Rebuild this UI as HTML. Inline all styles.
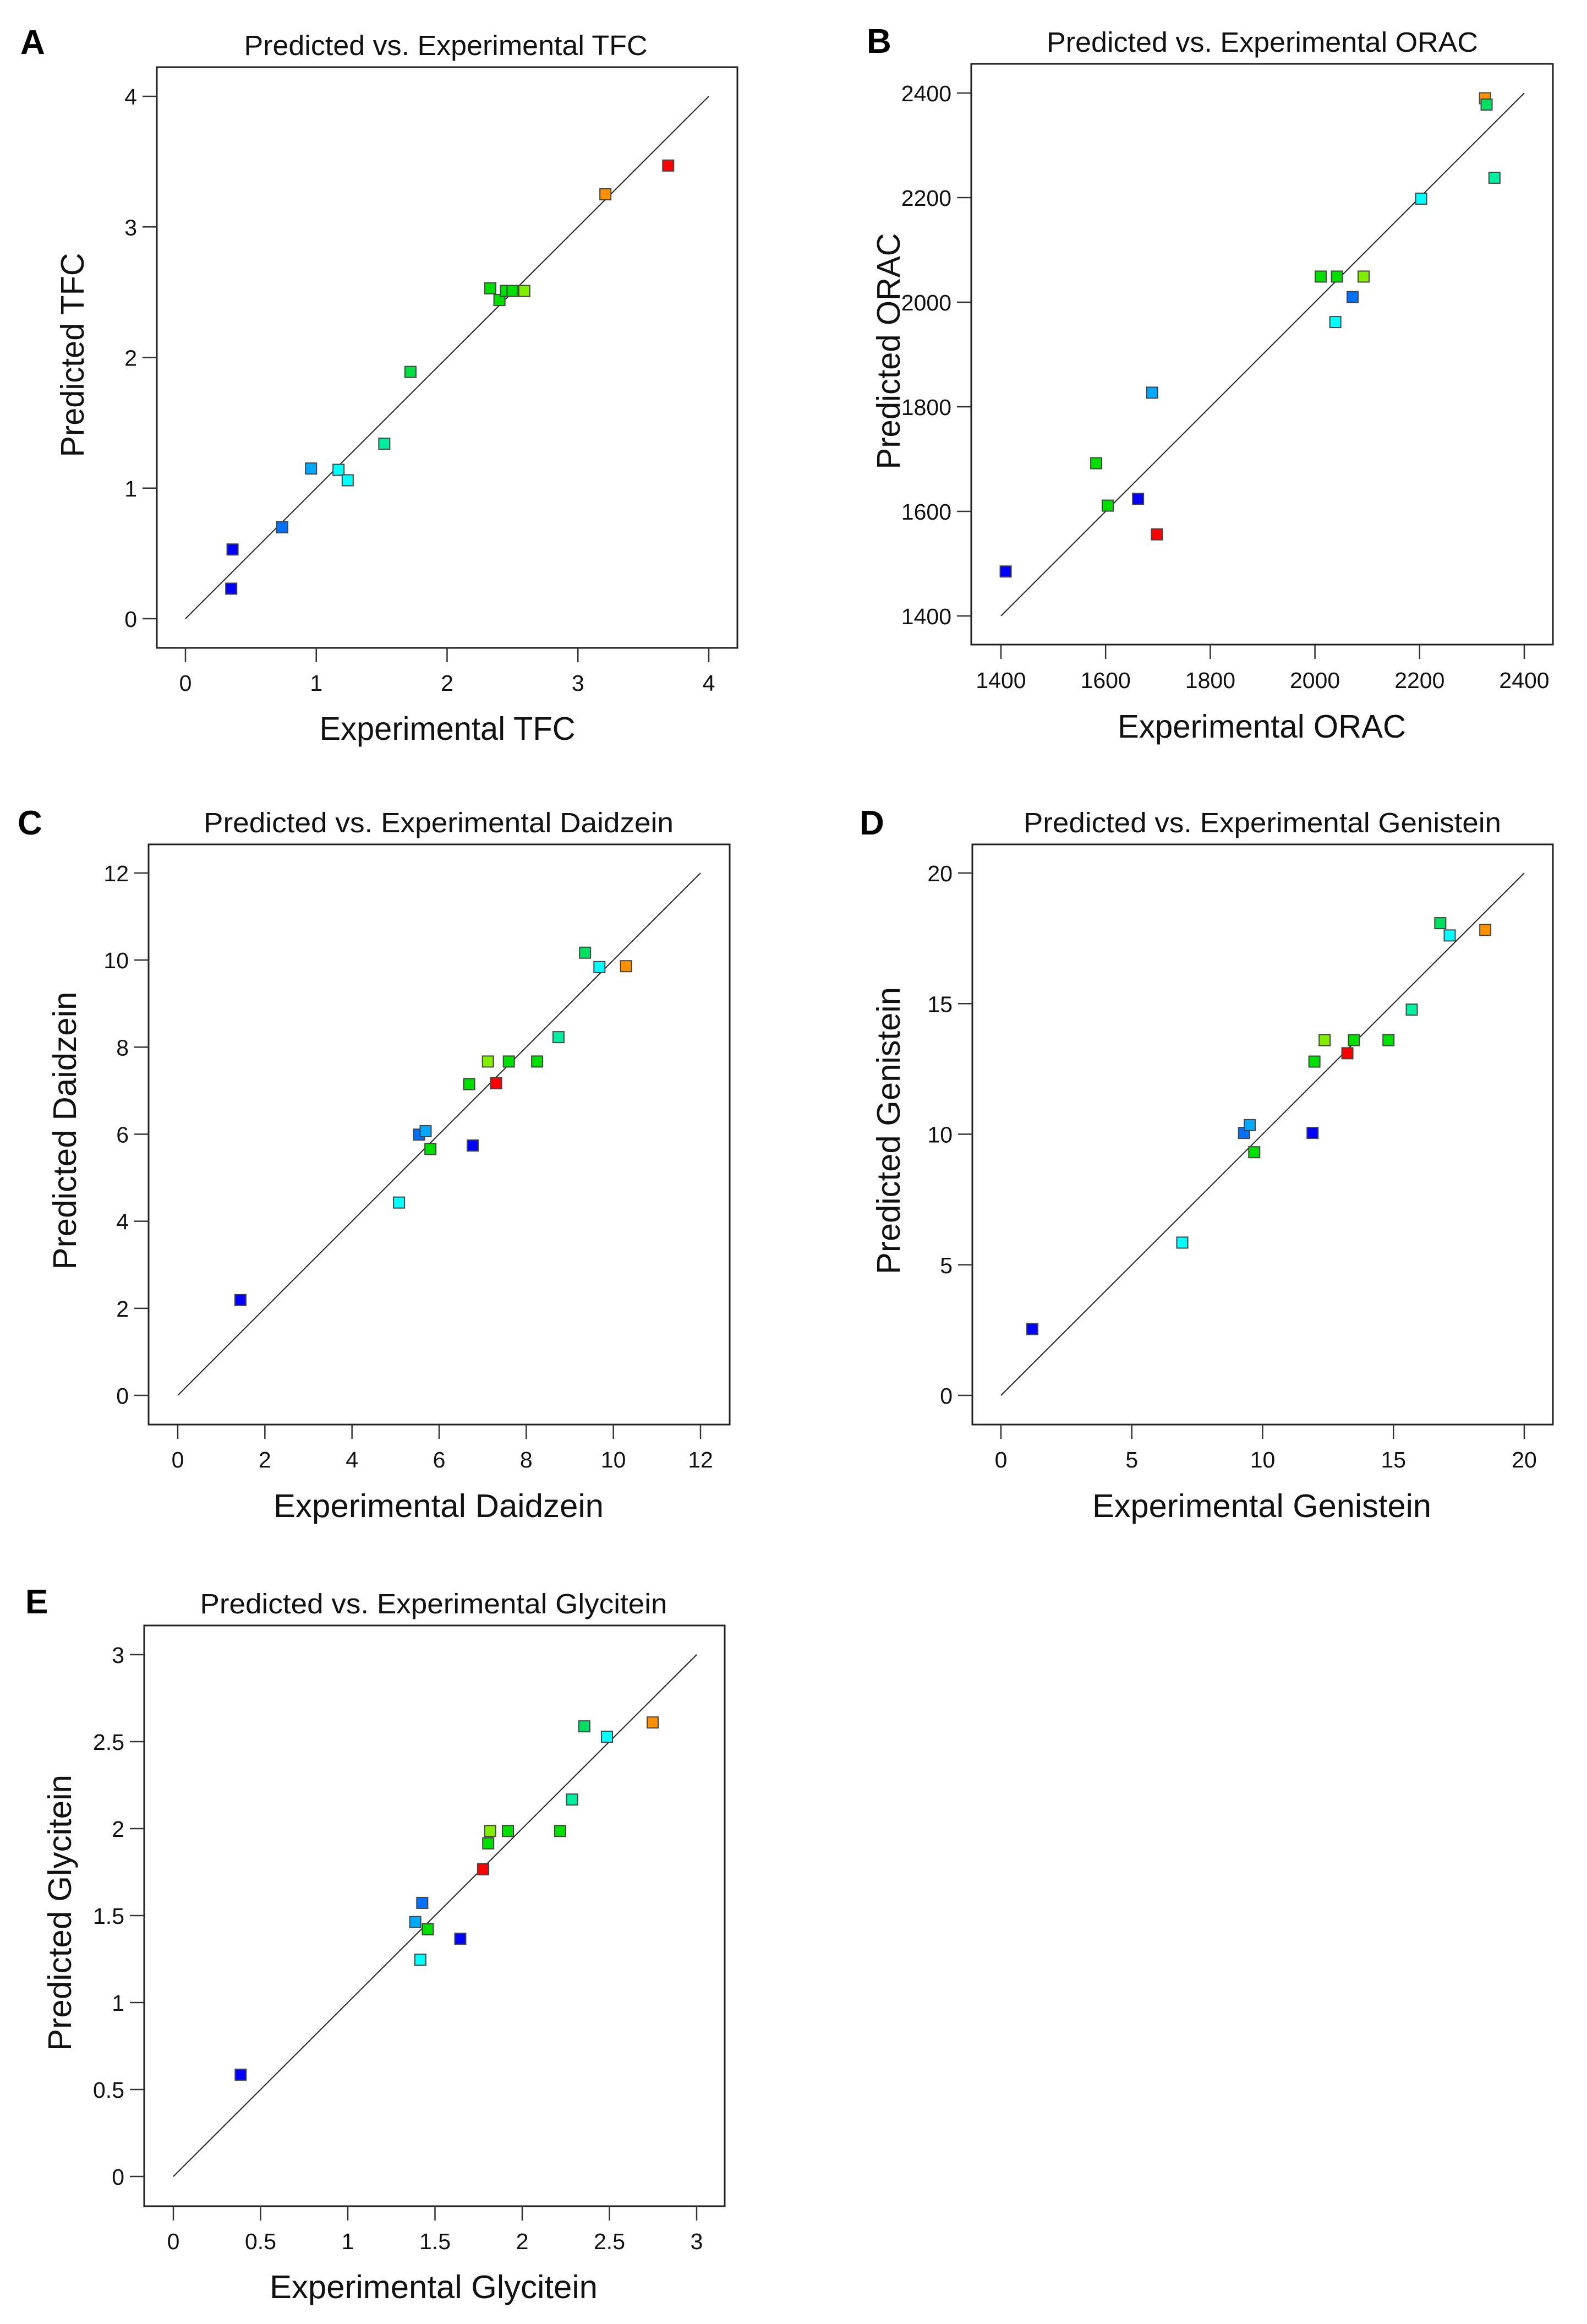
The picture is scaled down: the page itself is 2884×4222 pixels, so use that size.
<!DOCTYPE html>
<html><head><meta charset="utf-8"><style>
html,body{margin:0;padding:0;background:#fff;}
svg{display:block;font-family:"Liberation Sans",sans-serif;}
</style></head><body>
<svg id="fig" width="2884" height="4222" viewBox="0 0 2884 4222" xmlns="http://www.w3.org/2000/svg">
<rect width="2884" height="4222" fill="#fff"/>
</svg>
<script>
// Panel A: TFC
const tfcExp  = [0.36,0.35,0.74,0.96,1.17,1.24,1.52,1.72,2.33,2.40,2.45,2.50,2.59,3.21,3.69];
const tfcPred = [0.53,0.23,0.70,1.15,1.14,1.06,1.34,1.89,2.53,2.44,2.51,2.51,2.51,3.25,3.47];
const tfcColor = ['#0000ff','#0000ff','#0070ff','#00a8ff','#00ffff','#00ffff','#00f0a0','#00e040','#00e000','#00e000','#00e000','#00e000','#80f000','#ff9000','#ff0000'];
const tfcTicks = [0,1,2,3,4];
// Panel B: ORAC
const oracExp  = [1409,1582,1604,1662,1689,1698,2011,2042,2093,2072,2039,2203,2325,2328,2343];
const oracPred = [1485,1692,1611,1624,1827,1556,2049,2049,2049,2010,1962,2198,2390,2378,2238];
const oracColor = ['#0000ff','#00e000','#00e000','#0000ff','#00a8ff','#ff0000','#00e000','#00e000','#80f000','#0070ff','#00ffff','#00ffff','#ff9000','#00e060','#00f0a0'];
const oracTicks = [1400,1600,1800,2000,2200,2400];
// Panel C: Daidzein
const daiExp  = [1.44,5.08,5.54,5.69,5.80,6.77,6.69,7.12,7.31,7.60,8.25,8.74,9.35,9.68,10.29];
const daiPred = [2.19,4.43,5.99,6.07,5.66,5.74,7.15,7.67,7.17,7.67,7.67,8.23,10.17,9.84,9.86];
const daiColor = ['#0000ff','#00ffff','#0070ff','#00a8ff','#00e000','#0000ff','#00e000','#80f000','#ff0000','#00e000','#00e000','#00f0a0','#00e060','#00ffff','#ff9000'];
const daiTicks = [0,2,4,6,8,10,12];
// Panel D: Genistein
const genExp  = [1.20,6.93,9.29,9.51,9.68,11.91,11.98,12.37,13.24,13.49,14.81,15.70,16.79,17.15,18.51];
const genPred = [2.54,5.85,10.05,10.35,9.31,10.05,12.78,13.60,13.10,13.60,13.60,14.77,18.08,17.61,17.82];
const genColor = ['#0000ff','#00ffff','#0070ff','#00a8ff','#00e000','#0000ff','#00e000','#80f000','#ff0000','#00e000','#00e000','#00f0a0','#00e060','#00ffff','#ff9000'];
const genTicks = [0,5,10,15,20];
// Panel E: Glycitein
const glyExp  = [0.386,1.387,1.427,1.416,1.459,1.645,1.776,1.805,1.816,1.918,2.217,2.286,2.356,2.486,2.748];
const glyPred = [0.585,1.463,1.573,1.246,1.421,1.367,1.766,1.915,1.986,1.986,1.986,2.167,2.588,2.528,2.610];
const glyColor = ['#0000ff','#00a8ff','#0070ff','#00ffff','#00e000','#0000ff','#ff0000','#00e000','#80f000','#00e000','#00e000','#00f0a0','#00e060','#00ffff','#ff9000'];
const glyTicks = [0,0.5,1,1.5,2,2.5,3];

const NS='http://www.w3.org/2000/svg';
const svg=document.getElementById('fig');
function mk(tag,attrs,parent){const e=document.createElementNS(NS,tag);for(const k in attrs)e.setAttribute(k,attrs[k]);(parent||svg).appendChild(e);return e;}

const panels=[
 {id:'a',letter:'A',lx:37,ly:98,title:'Predicted vs. Experimental TFC',tx:810,ty:100,tw:733,
  box:[285,122,1340,1177],px:[337,1288],py:[1124,175],dom:[0,4],ticks:tfcTicks,xl:1255,
  xt:'Experimental TFC',xtx:813,xty:1344,xtw:465,yt:'Predicted TFC',ytx:152,yty:645,ytw:371,
  ex:tfcExp,pr:tfcPred,col:tfcColor},
 {id:'b',letter:'B',lx:1575,ly:96,title:'Predicted vs. Experimental ORAC',tx:2294,ty:94,tw:784,
  box:[1765,116,2822,1171],px:[1819,2770],py:[1119,169],dom:[1400,2400],ticks:oracTicks,xl:1250,
  xt:'Experimental ORAC',xtx:2293,xty:1340,xtw:524,yt:'Predicted ORAC',ytx:1635,yty:638,ytw:429,
  ex:oracExp,pr:oracPred,col:oracColor},
 {id:'c',letter:'C',lx:32,ly:1516,title:'Predicted vs. Experimental Daidzein',tx:797,ty:1512,tw:854,
  box:[270,1534,1326,2588],px:[323,1273],py:[2535,1586],dom:[0,12],ticks:daiTicks,xl:2666,
  xt:'Experimental Daidzein',xtx:797,xty:2756,xtw:600,yt:'Predicted Daidzein',ytx:138,yty:2054,ytw:505,
  ex:daiExp,pr:daiPred,col:daiColor},
 {id:'d',letter:'D',lx:1562,ly:1516,title:'Predicted vs. Experimental Genistein',tx:2294,ty:1512,tw:868,
  box:[1767,1534,2822,2588],px:[1819,2770],py:[2535,1586],dom:[0,20],ticks:genTicks,xl:2666,
  xt:'Experimental Genistein',xtx:2293,xty:2756,xtw:616,yt:'Predicted Genistein',ytx:1635,yty:2054,ytw:522,
  ex:genExp,pr:genPred,col:genColor},
 {id:'e',letter:'E',lx:46,ly:2931,title:'Predicted vs. Experimental Glycitein',tx:788,ty:2931,tw:849,
  box:[262,2953,1317,4008],px:[315,1266],py:[3954,3006],dom:[0,3],ticks:glyTicks,xl:4086,
  xt:'Experimental Glycitein',xtx:788,xty:4175,xtw:596,yt:'Predicted Glycitein',ytx:129,yty:3475,ytw:502,
  ex:glyExp,pr:glyPred,col:glyColor}
];

panels.forEach(p=>{
  const g=mk('g',{});
  
  
  const sx=v=>p.px[0]+(v-p.dom[0])/(p.dom[1]-p.dom[0])*(p.px[1]-p.px[0]);
  const sy=v=>p.py[0]+(v-p.dom[0])/(p.dom[1]-p.dom[0])*(p.py[1]-p.py[0]);
  const L=mk('text',{x:p.lx,y:p.ly,'font-size':62,'font-weight':'bold',fill:'#000'},g);
  L.textContent=p.letter;
  
  
  const T=mk('text',{x:p.tx,y:p.ty,'font-size':51,'text-anchor':'middle',fill:'#111',textLength:p.tw,lengthAdjust:'spacingAndGlyphs'},g);
  T.textContent=p.title;
  
  
  const [x0,y0,x1,y1]=p.box;
  const B=mk('rect',{x:x0,y:y0,width:x1-x0,height:y1-y0,fill:'none',stroke:'#222','stroke-width':3},g);
  
  
  p.ticks.forEach(t=>{
    const X=sx(t),Y=sy(t);
    const tx=mk('line',{x1:X,y1:y1,x2:X,y2:y1+26,stroke:'#333','stroke-width':2.5},g);
    
    
    const lx=mk('text',{x:X,y:p.xl,'font-size':41,'text-anchor':'middle',fill:'#111'},g);
    lx.textContent=String(t);
    
    
    const ty=mk('line',{x1:x0-26,y1:Y,x2:x0,y2:Y,stroke:'#333','stroke-width':2.5},g);
    
    
    const ly=mk('text',{x:x0-36,y:Y+15,'font-size':41,'text-anchor':'end',fill:'#111'},g);
    ly.textContent=String(t);
    
    
  });
  const XT=mk('text',{x:p.xtx,y:p.xty,'font-size':59,'text-anchor':'middle',fill:'#111',textLength:p.xtw,lengthAdjust:'spacingAndGlyphs'},g);
  XT.textContent=p.xt;
  
  
  const YT=mk('text',{x:0,y:0,'font-size':59,'text-anchor':'middle',fill:'#111',textLength:p.ytw,lengthAdjust:'spacingAndGlyphs',transform:'translate('+p.ytx+','+p.yty+') rotate(-90)'},g);
  YT.textContent=p.yt;
  
  
  const D=mk('line',{x1:sx(p.dom[0]),y1:sy(p.dom[0]),x2:sx(p.dom[1]),y2:sy(p.dom[1]),stroke:'#222','stroke-width':2},g);
  
  
  p.ex.forEach((v,i)=>{
    const s=20;
    const r=mk('rect',{x:sx(v)-s/2,y:sy(p.pr[i])-s/2,width:s,height:s,fill:p.col[i],stroke:'#444','stroke-width':2},g);
    
    
  });
});
</script>
</body></html>
